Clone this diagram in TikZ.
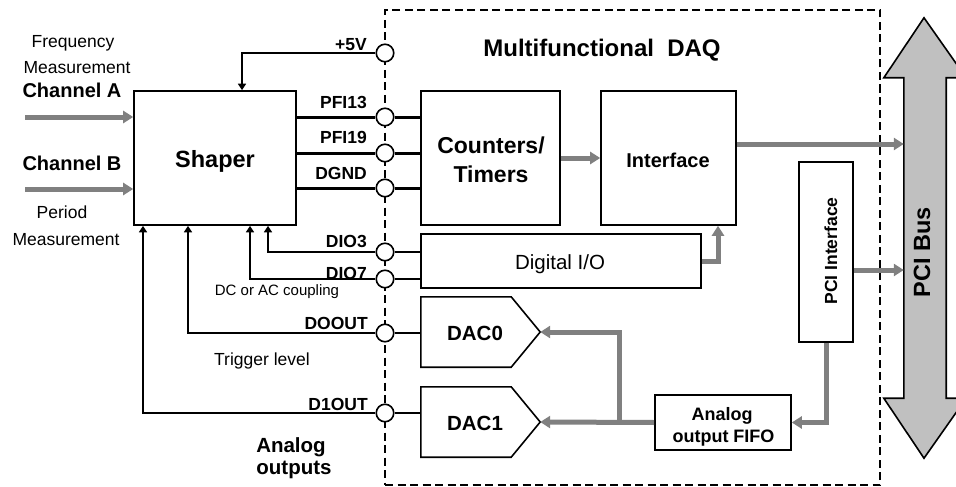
\documentclass[tikz,border=0pt]{standalone}
\usepackage{fontspec}
\setmainfont{Liberation Sans}
\usetikzlibrary{arrows.meta,calc}
\definecolor{garr}{HTML}{808080}
\definecolor{busfill}{HTML}{C0C0C0}
\begin{document}
\begin{tikzpicture}[x=1pt,y=-1pt,
  box/.style={draw, line width=1.6pt, inner sep=0},
  port/.style={draw, circle, line width=1.6pt, fill=white, minimum size=17.5pt, inner sep=0},
  lbl/.style={anchor=base east, inner sep=0, font=\fontsize{17.5}{20}\selectfont\bfseries},
  txt/.style={anchor=base, inner sep=0},
  garrow/.style={draw=garr, line width=5pt, -{Triangle[length=10pt,width=12pt]}},
  barrow/.style={line width=1.6pt, -{Triangle[length=6.5pt,width=8pt]}},
  sig/.style={line width=1.6pt},
  thick3/.style={line width=3pt},
]
\useasboundingbox (0,0) rectangle (956,487);

% dashed DAQ outline
\node[draw, dash pattern=on 8pt off 4.5pt, line width=2.6pt, minimum width=495pt, minimum height=475pt, inner sep=0] (daq) at (632.5,247.5) {};

% boxes
\node[box, minimum width=162pt, minimum height=134pt] (shaper) at (215,158) {};
\node[box, minimum width=139pt, minimum height=134pt] (ct) at (490.5,158) {};
\node[box, minimum width=135pt, minimum height=134pt] (intf) at (668.5,158) {};
\node[box, minimum width=280pt, minimum height=54pt] (dio) at (561,261) {};
\node[box, fill=white, minimum width=136pt, minimum height=55pt] (fifo) at (723,422.5) {};
\node[box, fill=white, minimum width=54pt, minimum height=180pt] (pciif) at (826,252) {};

% DACs
\node[inner sep=0, minimum width=119pt, minimum height=70pt] (dac0) at (480.5,332) {};
\draw[line width=1.6pt] (dac0.north west) -- ([xshift=-29pt]dac0.north east) -- (dac0.east) -- ([xshift=-29pt]dac0.south east) -- (dac0.south west) -- cycle;
\node[inner sep=0, minimum width=119pt, minimum height=70pt] (dac1) at (480.5,422) {};
\draw[line width=1.6pt] (dac1.north west) -- ([xshift=-29pt]dac1.north east) -- (dac1.east) -- ([xshift=-29pt]dac1.south east) -- (dac1.south west) -- cycle;

% PCI bus double arrow
\node[inner sep=0, minimum width=42pt, minimum height=320pt] (bus) at (925,238) {};
\draw[line width=1.6pt, fill=busfill] (bus.north west) -- ++(-20pt,0pt) -- ($(bus.north)+(-1pt,60pt)$)
  -- ($(bus.north east)+(20pt,0pt)$) -- (bus.north east) -- (bus.south east) -- ++(20pt,0pt)
  -- ($(bus.south)+(-1pt,-60pt)$) -- ($(bus.south west)+(-20pt,0pt)$) -- (bus.south west) -- cycle;

% ports
\node[port] (p5v) at (385,53) {};
\node[port] (p13) at (385,117) {};
\node[port] (p19) at (385,153) {};
\node[port] (pdg) at (385,188) {};
\node[port] (pd3) at (385,252) {};
\node[port] (pd7) at (385,279) {};
\node[port] (pd0) at (385,333) {};
\node[port] (pd1) at (385,413) {};

% black connections
\draw[barrow] (p5v.west) -| ([xshift=27pt]shaper.north);
\draw[thick3] (p13.west) -- (p13.west -| shaper.east);
\draw[thick3] (p13.east) -- (p13.east -| ct.west);
\draw[thick3] (p19.west) -- (p19.west -| shaper.east);
\draw[thick3] (p19.east) -- (p19.east -| ct.west);
\draw[thick3] (pdg.west) -- (pdg.west -| shaper.east);
\draw[thick3] (pdg.east) -- (pdg.east -| ct.west);
\draw[sig] (pd3.east) -- (pd3.east -| dio.west);
\draw[barrow] (pd3.west) -| ([xshift=53pt]shaper.south);
\draw[sig] (pd7.east) -- (pd7.east -| dio.west);
\draw[barrow] (pd7.west) -| ([xshift=35pt]shaper.south);
\draw[sig] (pd0.east) -- (pd0.east -| dac0.west);
\draw[barrow] (pd0.west) -| ([xshift=-27pt]shaper.south);
\draw[sig] (pd1.east) -- (pd1.east -| dac1.west);
\draw[barrow] (pd1.west) -| ([xshift=-72pt]shaper.south);

% gray data paths
\coordinate (chA) at (25,117);
\coordinate (chB) at (25,189);
\draw[garrow] (chA) -- (chA -| shaper.west);
\draw[garrow] (chB) -- (chB -| shaper.west);
\draw[garrow] (ct.east) -- (intf.west);
\draw[garrow] ([yshift=14pt]intf.east) coordinate (ie) -- (ie -| bus.west);
\draw[garrow] ([yshift=-18pt]pciif.east) coordinate (pe) -- (pe -| bus.west);
\draw[garrow] (dio.east) -| ([xshift=49.5pt]intf.south);
\draw[garrow] (pciif.south) |- (fifo.east);
\draw[garrow] (fifo.west) -- (dac1.east);
\coordinate (br) at (619,422);
\draw[garrow] (br) |- (dac0.east);

% port labels
\node[lbl] (l5v) at (367,51) {+5V};
\node[lbl] (l13) at (367,108) {PFI13};
\node[lbl] (l19) at (367,143) {PFI19};
\node[lbl] (ldg) at (367,179) {DGND};
\node[lbl] (ld3) at (367,247) {DIO3};
\node[lbl] (ld7) at (367,279) {DIO7};
\node[lbl] (ld0) at (368,329) {DOOUT};
\node[lbl] (ld1) at (368,410) {D1OUT};

% texts
\node[txt, font=\fontsize{17.5}{20}\selectfont] (t1) at (73,48) {Frequency};
\node[txt, font=\fontsize{17.5}{20}\selectfont] (t2) at (77,74) {Measurement};
\node[txt, font=\fontsize{20}{24}\selectfont\bfseries] (t3) at (72,97) {Channel A};
\node[txt, font=\fontsize{20}{24}\selectfont\bfseries] (t4) at (72,170) {Channel B};
\node[txt, font=\fontsize{17.5}{20}\selectfont] (t5) at (62,218) {Period};
\node[txt, font=\fontsize{17.5}{20}\selectfont] (t6) at (66,245) {Measurement};
\node[txt, font=\fontsize{23.5}{28}\selectfont\bfseries] (t7) at (215,167) {Shaper};
\node[txt, font=\fontsize{24}{28}\selectfont\bfseries] (t8) at (602,57) {Multifunctional\ \ DAQ};
\node[txt, font=\fontsize{23}{28}\selectfont\bfseries] (t9) at (491,153) {Counters/};
\node[txt, font=\fontsize{23}{28}\selectfont\bfseries] (t10) at (491,182) {Timers};
\node[txt, font=\fontsize{20}{24}\selectfont\bfseries] (t11) at (668,167) {Interface};
\node[txt, font=\fontsize{20.5}{24}\selectfont] (t12) at (560,269) {Digital I/O};
\node[txt, font=\fontsize{20.5}{24}\selectfont\bfseries] (t13) at (475,340) {DAC0};
\node[txt, font=\fontsize{20.5}{24}\selectfont\bfseries] (t14) at (475,430) {DAC1};
\node[txt, font=\fontsize{18}{22}\selectfont\bfseries] (t15) at (722,420) {Analog};
\node[txt, font=\fontsize{18}{22}\selectfont\bfseries] (t16) at (723.5,442) {output FIFO};
\node[txt, font=\fontsize{15}{18}\selectfont] (t17) at (277,295) {DC or AC coupling};
\node[txt, font=\fontsize{17.5}{20}\selectfont] (t18) at (262,365) {Trigger level};
\node[txt, font=\fontsize{20.5}{24}\selectfont\bfseries] (t19) at (291,452) {Analog};
\node[txt, font=\fontsize{20.5}{24}\selectfont\bfseries] (t20) at (294,474) {outputs};
\node[txt, rotate=90, font=\fontsize{17.5}{20}\selectfont\bfseries] (t21) at (837,251) {PCI Interface};
\node[txt, rotate=90, font=\fontsize{23.5}{28}\selectfont\bfseries] (t22) at (930,252) {PCI Bus};
\end{tikzpicture}
\end{document}
